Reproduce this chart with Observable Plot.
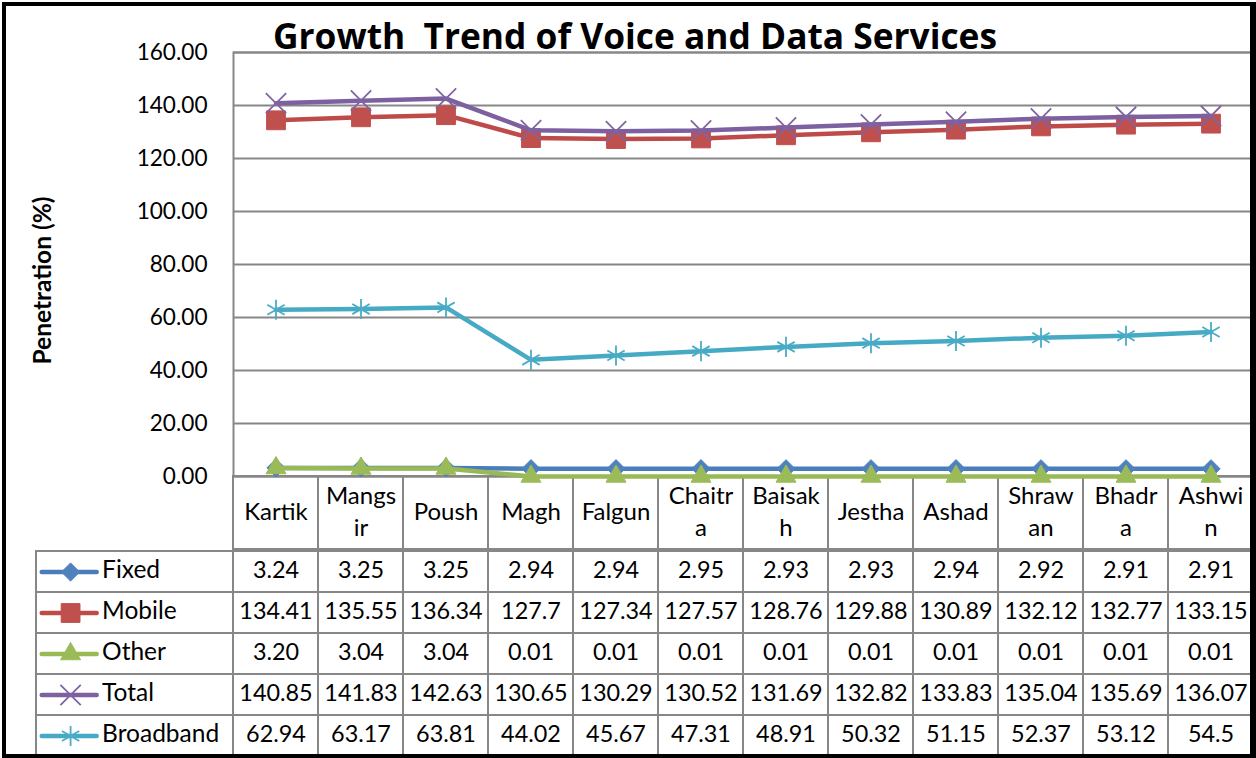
<!DOCTYPE html>
<html>
<head>
<meta charset="utf-8">
<script src="https://cdn.jsdelivr.net/npm/d3@7"></script>
<script src="https://cdn.jsdelivr.net/npm/@observablehq/plot@0.6"></script>
<style>
  html, body { margin: 0; padding: 0; background: #fff; }
  #wrap { position: relative; width: 1256px; height: 758px; overflow: hidden; background: #fff; font-family: Lato, sans-serif; }
  .layer { position: absolute; }
  .layer svg { display: block; }
  #title { position: absolute; left: 0; top: 18px; width: 1270px; text-align: center; font: bold 35.3px/35px "Open Sans", sans-serif; white-space: pre; color: #000; }
  #border { position: absolute; left: 2px; top: 2px; width: 1254px; height: 756px; box-sizing: border-box; border-style: solid; border-color: #000; border-width: 4px 6px 4px 4px; pointer-events: none; }
</style>
</head>
<body>
<div id="wrap">
  <div id="legendCol" class="layer" style="left:34px;top:547px;"></div>
  <div id="body" class="layer" style="left:0;top:547px;"></div>
  <div id="header" class="layer" style="left:0;top:474px;"></div>
  <div id="main" class="layer" style="left:0;top:0;"></div>
  <div id="title">Growth  Trend of Voice and Data Services</div>
  <div id="border"></div>
</div>
<script>
// ---- data ----
const months = ["Kartik","Mangsir","Poush","Magh","Falgun","Chaitra","Baisakh","Jestha","Ashad","Shrawan","Bhadra","Ashwin"];
const headerLabels = ["Kartik","Mangs\nir","Poush","Magh","Falgun","Chaitr\na","Baisak\nh","Jestha","Ashad","Shraw\nan","Bhadr\na","Ashwi\nn"];
const seriesNames = ["Fixed","Mobile","Other","Total","Broadband"];
const fixed     = [3.24, 3.25, 3.25, 2.94, 2.94, 2.95, 2.93, 2.93, 2.94, 2.92, 2.91, 2.91];
const mobile    = [134.41, 135.55, 136.34, 127.7, 127.34, 127.57, 128.76, 129.88, 130.89, 132.12, 132.77, 133.15];
const other     = [3.20, 3.04, 3.04, 0.01, 0.01, 0.01, 0.01, 0.01, 0.01, 0.01, 0.01, 0.01];
const total     = [140.85, 141.83, 142.63, 130.65, 130.29, 130.52, 131.69, 132.82, 133.83, 135.04, 135.69, 136.07];
const broadband = [62.94, 63.17, 63.81, 44.02, 45.67, 47.31, 48.91, 50.32, 51.15, 52.37, 53.12, 54.5];
const yTicks = [0, 20, 40, 60, 80, 100, 120, 140, 160];

const seriesValues = {Fixed: fixed, Mobile: mobile, Other: other, Total: total, Broadband: broadband};
const labelFormat = {Other: v => v.toFixed(2)};

const styles = {
  Fixed:     {line: "#4a7ebb", mark: "#4f81bd", symbol: "diamond2", r: 8.2, filled: true},
  Mobile:    {line: "#be4b48", mark: "#c0504d", symbol: "square",   r: 10.6, filled: true},
  Other:     {line: "#98b954", mark: "#9bbb59", symbol: "triangle", r: 7.4, filled: true},
  Total:     {line: "#7d60a0", mark: "#8064a2", symbol: "times",    r: 9.3, filled: false},
  Broadband: {line: "#46aac5", mark: "#4bacc6", symbol: "asterisk", r: 9.5, filled: false}
};

const rows = seriesNames.flatMap(s => months.map((m, i) => ({
  series: s, month: m, value: seriesValues[s][i],
  label: (labelFormat[s] || (v => String(v)))(seriesValues[s][i])
})));

const grid = "#878787";
const font = "Lato, sans-serif";

function dotOpts(s, extra) {
  const st = styles[s];
  return Object.assign({
    symbol: st.symbol, r: st.r,
    fill: st.filled ? st.mark : "none",
    stroke: st.mark,
    strokeWidth: st.filled ? 1 : 1.8
  }, extra);
}

// ---- main chart ----
const mainMarks = [
  Plot.ruleY(yTicks, {stroke: grid, strokeWidth: 2}),
  Plot.frame({stroke: grid, strokeWidth: 2}),
  Plot.text(["Penetration (%)"], {frameAnchor: "left", textAnchor: "middle", dx: -190, dy: 16, rotate: -90, fontWeight: "bold", fontSize: 24.5})
];
for (const s of seriesNames) {
  const d = rows.filter(r => r.series === s);
  mainMarks.push(Plot.line(d, {x: "month", y: "value", stroke: styles[s].line, strokeWidth: 4.5}));
  mainMarks.push(Plot.dot(d, dotOpts(s, {x: "month", y: "value"})));
}
const main = Plot.plot({
  width: 1256, height: 490,
  marginTop: 52, marginBottom: 14, marginLeft: 233, marginRight: 3,
  style: {fontFamily: font, fontSize: "22.6px", background: "transparent", overflow: "visible", color: "#000"},
  x: {type: "band", domain: months, padding: 0, axis: null},
  y: {domain: [0, 160], ticks: yTicks, tickFormat: d3.format(".2f"), tickSize: 0, tickPadding: 26, label: null},
  marks: mainMarks
});
document.getElementById("main").appendChild(main);

// ---- table header ----
const header = Plot.plot({
  width: 1256, height: 77,
  marginTop: 2, marginBottom: 2, marginLeft: 233, marginRight: 3,
  style: {fontFamily: font, fontSize: "24px", background: "transparent", overflow: "visible", color: "#000"},
  x: {type: "band", domain: months, padding: 0, axis: null},
  marks: [
    Plot.cell(months, {x: d => d, fill: "white", stroke: grid, strokeWidth: 2}),
    Plot.text(months, {x: d => d, text: (d, i) => headerLabels[i], lineHeight: 1.3, dy: -3, fill: "#000"})
  ]
});
document.getElementById("header").appendChild(header);

// ---- table body ----
const body = Plot.plot({
  width: 1256, height: 213,
  marginTop: 2, marginBottom: 2, marginLeft: 233, marginRight: 3,
  style: {fontFamily: font, fontSize: "23.4px", background: "transparent", overflow: "visible", color: "#000"},
  x: {type: "band", domain: months, padding: 0, axis: null},
  y: {type: "band", domain: seriesNames, padding: 0, axis: null},
  marks: [
    Plot.cell(rows, {x: "month", y: "series", fill: "white", stroke: grid, strokeWidth: 2}),
    Plot.text(rows, {x: "month", y: "series", text: "label", dy: -2, fill: "#000"})
  ]
});
document.getElementById("body").appendChild(body);

// ---- legend column ----
const legendMarks = [
  Plot.barX(seriesNames, {x1: 0, x2: 1, y: d => d, fill: "white", stroke: grid, strokeWidth: 2})
];
for (const s of seriesNames) {
  legendMarks.push(Plot.ruleY([s], {y: d => d, x1: 0.029, x2: 0.308, stroke: styles[s].line, strokeWidth: 4.5, strokeLinecap: "round"}));
  legendMarks.push(Plot.dot([s], dotOpts(s, {y: d => d, x: 0.173})));
  legendMarks.push(Plot.text([s], {y: d => d, x: 0.333, text: d => d, textAnchor: "start", dy: -2, fill: "#000"}));
}
const legend = Plot.plot({
  width: 201, height: 213,
  marginTop: 2, marginBottom: 2, marginLeft: 2, marginRight: 2,
  style: {fontFamily: font, fontSize: "24.5px", background: "transparent", overflow: "visible", color: "#000"},
  x: {domain: [0, 1], axis: null},
  y: {type: "band", domain: seriesNames, padding: 0, axis: null},
  marks: legendMarks
});
document.getElementById("legendCol").appendChild(legend);
</script>
</body>
</html>
